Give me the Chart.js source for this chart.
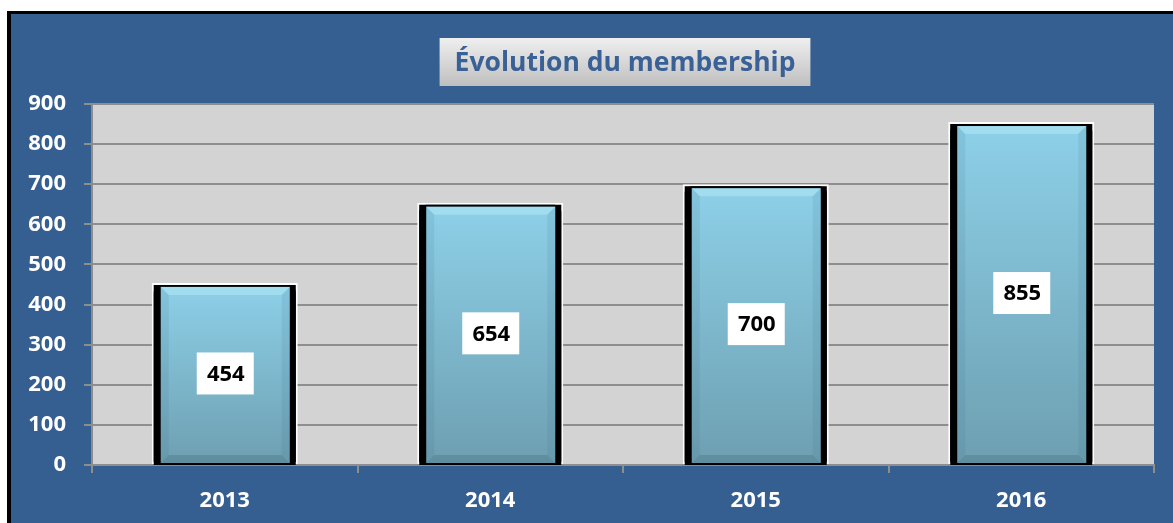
<!DOCTYPE html>
<html>
<head>
<meta charset="utf-8">
<script src="https://cdn.jsdelivr.net/npm/chart.js@4.4.0/dist/chart.umd.min.js"></script>
<style>
    html, body {
        margin: 0;
        padding: 0;
        background: #ffffff;
        overflow: hidden;
    }
    #fundo {
        position: absolute;
        left: 7px;
        top: 11px;
        width: 1200px;
        height: 560px;
        border-left: 4px solid #000;
        border-top: 3px solid #000;
        background: #365f91;
    }
    #caixa {
        position: absolute;
        left: 0;
        top: 0;
        width: 1173px;
        height: 523px;
    }
</style>
</head>
<body>
<div id="fundo"></div>
<div id="caixa"><canvas id="grafico"></canvas></div>
<script>
const anos = ['2013', '2014', '2015', '2016'];
const membros = [454, 654, 700, 855];
const eixoY = { min: 0, max: 900, passo: 100 };
const titulo = 'Évolution du membership';

const fonte = '"Open Sans", sans-serif';

// fundo cinza da area do grafico
const fundoArea = {
    id: 'fundoArea',
    beforeDraw(chart) {
        const { ctx, chartArea } = chart;
        ctx.save();
        ctx.fillStyle = '#d3d3d3';
        ctx.fillRect(chartArea.left, chartArea.top, chartArea.right - chartArea.left, chartArea.bottom - chartArea.top);
        ctx.restore();
    }
};

// caixa do titulo com degrade
const caixaTitulo = {
    id: 'caixaTitulo',
    afterDraw(chart) {
        const { ctx, chartArea } = chart;
        ctx.save();
        ctx.font = 'bold 26.5px ' + fonte;
        const largura = ctx.measureText(titulo).width + 30;
        const cx = (chartArea.left + chartArea.right) / 2 + 2;
        const topo = 38, altura = 48;
        const g = ctx.createLinearGradient(0, topo, 0, topo + altura);
        g.addColorStop(0, '#efefef');
        g.addColorStop(1, '#bfbfbf');
        ctx.fillStyle = g;
        ctx.fillRect(cx - largura / 2, topo, largura, altura);
        ctx.fillStyle = '#3a6196';
        ctx.textAlign = 'center';
        ctx.textBaseline = 'middle';
        ctx.fillText(titulo, cx, topo + altura / 2 + 1);
        ctx.restore();
    }
};

// barras com bordas pretas, degrade azul e rotulo branco
const barras3d = {
    id: 'barras3d',
    afterDatasetsDraw(chart) {
        const { ctx } = chart;
        const meta = chart.getDatasetMeta(0);
        ctx.save();
        meta.data.forEach(function (bar, i) {
            const esq = bar.x - bar.width / 2;
            const dir = bar.x + bar.width / 2;
            const topo = bar.y;
            const base = bar.base;

            // preto com cantos arredondados
            ctx.fillStyle = '#000';
            ctx.beginPath();
            ctx.roundRect(esq + 2, topo + 2, dir - esq - 4, base - topo - 1, [7, 7, 0, 0]);
            ctx.fill();

            const x0 = esq + 9, x1 = dir - 8, y0 = topo + 4, y1 = base - 1;
            const g = ctx.createLinearGradient(0, y0, 0, y1);
            g.addColorStop(0, '#8dd0e8');
            g.addColorStop(1, '#6e9fb1');
            ctx.fillStyle = g;
            ctx.fillRect(x0, y0, x1 - x0, y1 - y0);

            const b = 8;
            // chanfro de cima
            ctx.fillStyle = 'rgba(200,245,255,0.35)';
            ctx.beginPath();
            ctx.moveTo(x0, y0); ctx.lineTo(x1, y0); ctx.lineTo(x1 - b, y0 + b); ctx.lineTo(x0 + b, y0 + b);
            ctx.fill();
            // chanfros laterais
            ctx.fillStyle = 'rgba(60,110,130,0.12)';
            ctx.beginPath();
            ctx.moveTo(x0, y0); ctx.lineTo(x0 + b, y0 + b); ctx.lineTo(x0 + b, y1 - b); ctx.lineTo(x0, y1);
            ctx.fill();
            ctx.beginPath();
            ctx.moveTo(x1, y0); ctx.lineTo(x1 - b, y0 + b); ctx.lineTo(x1 - b, y1 - b); ctx.lineTo(x1, y1);
            ctx.fill();
            // chanfro de baixo
            ctx.fillStyle = 'rgba(50,90,105,0.25)';
            ctx.beginPath();
            ctx.moveTo(x0, y1); ctx.lineTo(x1, y1); ctx.lineTo(x1 - b, y1 - b); ctx.lineTo(x0 + b, y1 - b);
            ctx.fill();

            // rotulo
            const meio = (topo + base) / 2;
            ctx.fillStyle = '#fff';
            ctx.fillRect(bar.x - 28, meio - 21, 57, 42);
            ctx.fillStyle = '#000';
            ctx.font = 'bold 22px ' + fonte;
            ctx.textAlign = 'center';
            ctx.textBaseline = 'middle';
            ctx.fillText(String(membros[i]), bar.x + 1, meio + 1);
        });
        ctx.restore();
    }
};

const config_grafico = {
    type: 'bar',
    data: {
        labels: anos,
        datasets: [
            {
                data: membros,
                backgroundColor: '#000',
                borderColor: '#fff',
                borderWidth: 2,
                borderSkipped: false,
                categoryPercentage: 1,
                barPercentage: 0.55
            }
        ]
    },
    options: {
        responsive: true,
        maintainAspectRatio: false,
        animation: false,
        layout: {
            padding: { top: 104, right: 19, bottom: 0, left: 0 }
        },
        scales: {
            y: {
                min: eixoY.min,
                max: eixoY.max,
                afterFit: function (scale) { scale.width = 92; },
                grid: {
                    color: '#8e8e8e',
                    lineWidth: 2,
                    tickLength: 8
                },
                border: { color: '#8e8e8e', width: 2 },
                ticks: {
                    stepSize: eixoY.passo,
                    padding: 18,
                    color: '#ffffff',
                    font: { size: 22, family: fonte, weight: 'bold' }
                }
            },
            x: {
                afterFit: function (scale) { scale.height = 58; },
                grid: {
                    drawOnChartArea: false,
                    color: '#8e8e8e',
                    lineWidth: 2,
                    tickLength: 8
                },
                border: { color: '#8e8e8e', width: 2 },
                ticks: {
                    padding: 15,
                    color: '#ffffff',
                    font: { size: 22, family: fonte, weight: 'bold' }
                }
            }
        },
        plugins: {
            legend: { display: false },
            tooltip: { enabled: false },
            title: { display: false }
        }
    },
    plugins: [fundoArea, barras3d, caixaTitulo]
};

const grafico = new Chart(document.getElementById('grafico'), config_grafico);
</script>
</body>
</html>
